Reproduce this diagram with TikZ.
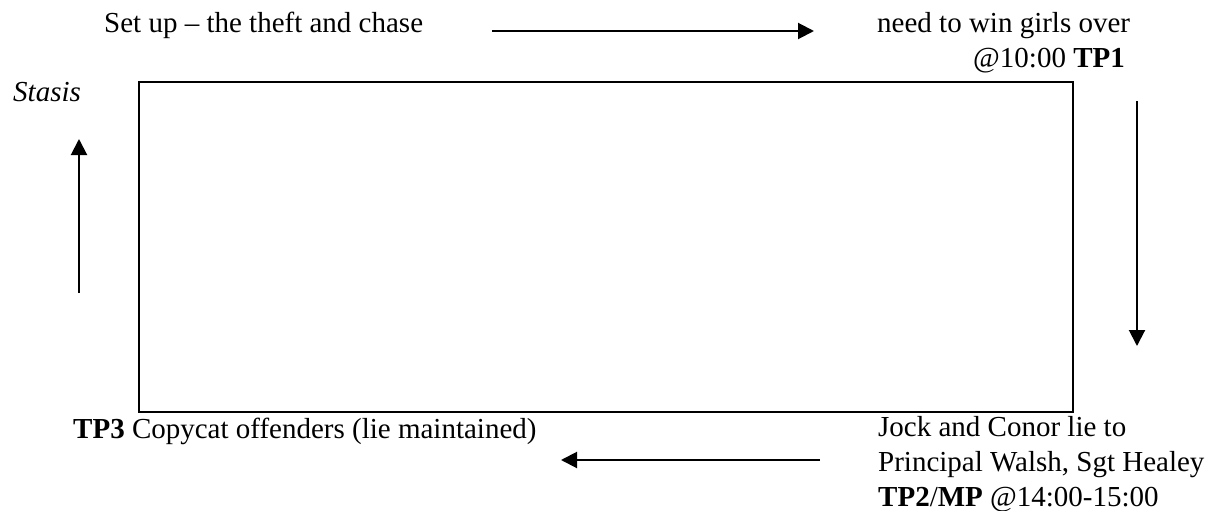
\documentclass[tikz,border=0pt]{standalone}
\usepackage{fontspec}
\setmainfont{Liberation Serif}
\usetikzlibrary{arrows.meta}
\begin{document}
\begin{tikzpicture}[x=1pt,y=-1pt,
  lbl/.style={inner sep=0pt,anchor=base west,font=\fontsize{29}{35}\selectfont},
  frame/.style={draw=black,line width=2pt},
  flow/.style={draw=black,line width=2pt,-{Triangle[length=16pt,width=16pt]}}]
  \useasboundingbox (0,0) rectangle (1219,511);

  % central frame
  \draw[frame] (139,82) rectangle (1073,412);

  % labels around the frame
  \node[lbl] (setup) at (104,33) {Set up -- the theft and chase};
  \node[lbl] (win) at (877,33) {need to win girls over};
  \node[lbl,anchor=base east] (tp1) at (1125,68) {@10:00 \textbf{TP1}};
  \node[lbl] (stasis) at (13,102) {\textit{Stasis}};
  \node[lbl] (tp3) at (73,438) {\textbf{TP3} Copycat offenders (lie maintained)};
  \node[lbl] (jock1) at (878,436) {Jock and Conor lie to};
  \node[lbl] (jock2) at (878,471) {Principal Walsh, Sgt Healey};
  \node[lbl] (jock3) at (878,506) {\textbf{TP2}/\textbf{MP} @14:00-15:00};

  % arrow ends
  \coordinate (topA) at (492,31);
  \coordinate (topB) at (814,31);
  \coordinate (rightA) at (1137,101);
  \coordinate (rightB) at (1137,346);
  \coordinate (botA) at (820,460);
  \coordinate (botB) at (561,460);
  \coordinate (leftA) at (79,293);
  \coordinate (leftB) at (79,139);

  % cycle arrows
  \draw[flow] (topA) -- (topB);
  \draw[flow] (rightA) -- (rightB);
  \draw[flow] (botA) -- (botB);
  \draw[flow] (leftA) -- (leftB);
\end{tikzpicture}
\end{document}
